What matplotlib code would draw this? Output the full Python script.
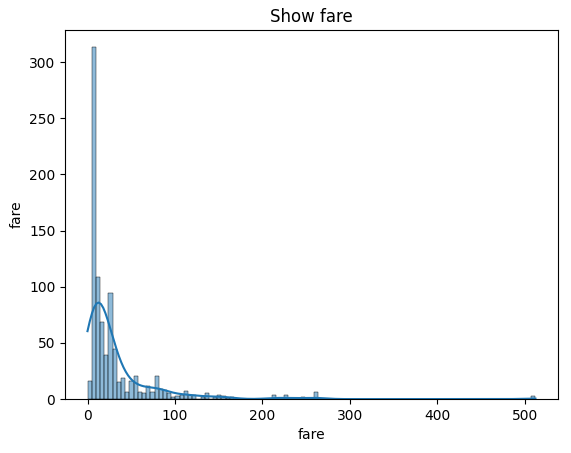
import numpy as np
import matplotlib
matplotlib.use("Agg")
import matplotlib.pyplot as plt
import seaborn as sns

# histogram of fare, 107 bins from 0 to 512.33 (counts)
fare_max = 512.3292
n_bins = 107
counts = [16, 313, 109, 69, 39, 94, 45, 15, 19, 6,
          16, 21, 6, 5, 12, 6, 21, 9, 8, 5,
          2, 3, 4, 7, 4, 4, 0, 2, 5, 0,
          2, 4, 3, 1, 2, 0, 0, 0, 0, 0,
          0, 0, 0, 0, 4, 0, 0, 4, 0, 0,
          0, 2, 0, 0, 6]
counts = counts + [0] * (n_bins - 1 - len(counts)) + [3]

edges = np.linspace(0, fare_max, n_bins + 1)
centers = (edges[:-1] + edges[1:]) / 2
fare = np.repeat(centers, counts)

fig = plt.figure(figsize=(5.71, 4.53), dpi=100)
ax = fig.add_axes([0.114, 0.119, 0.863, 0.815])
# small cut so the curve spans the full 0..max range like the original
sns.histplot(x=fare, bins=edges, kde=True, kde_kws={"cut": 0.19}, ax=ax)
ax.set_title("Show fare")
ax.set_xlabel("fare")
ax.set_ylabel("fare")
fig.savefig("out.png", dpi=100)
